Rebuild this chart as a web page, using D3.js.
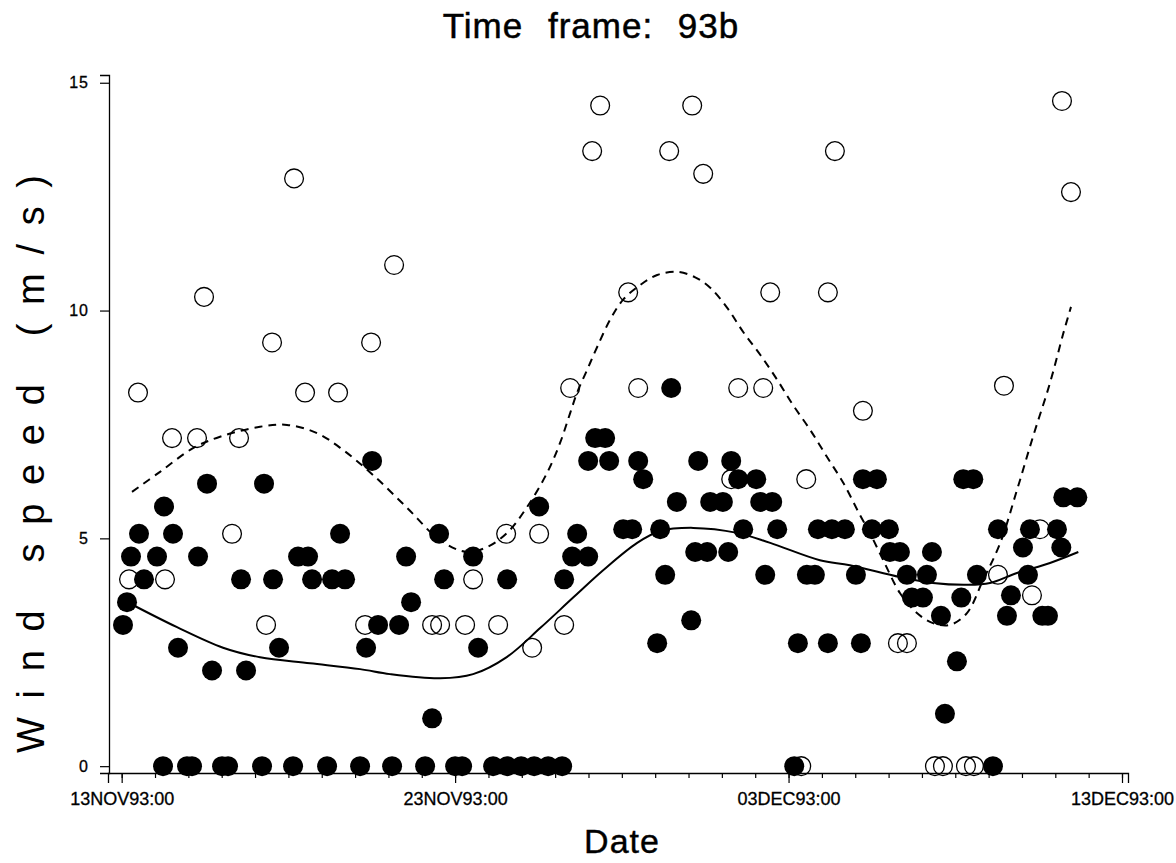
<!DOCTYPE html>
<html>
<head>
<meta charset="utf-8">
<script src="https://cdn.jsdelivr.net/npm/d3@7"></script>
<style>
  body { margin: 0; background: #fff; }
  svg text { font-family: "Liberation Sans", Arial, Helvetica, sans-serif; fill: #000; }
</style>
</head>
<body>
<div id="chart"></div>
<script>
var
  width = 1176,
  height = 863;

// days after 13NOV93:00 and wind speed (m/s)
var filledDay = [0.04, 0.16, 0.28, 0.52, 0.67, 1.06, 1.24, 1.27, 1.54, 1.69, 1.96, 2.11, 2.29, 2.56, 2.71,
  3.01, 3.19, 3.58, 3.73, 4.21, 4.27, 4.54, 4.72, 5.14, 5.29, 5.59, 5.71, 6.16, 6.31, 6.55, 6.70,
  7.15, 7.33, 7.51, 7.69, 8.11, 8.32, 8.53, 8.68, 9.10, 9.31, 9.52, 9.67, 10.00, 10.21, 10.54, 10.69,
  11.14, 11.56, 11.56, 11.98, 12.37, 12.52, 12.79, 13.21, 13.27, 13.51, 13.66, 13.99, 13.99, 14.20,
  14.50, 14.62, 15.04, 15.31, 15.49, 15.64, 16.06, 16.15, 16.30, 16.48, 16.65, 17.08, 17.20, 17.29,
  17.56, 17.65, 18.03, 18.19, 18.28, 18.49, 18.64, 19.03, 19.15, 19.30, 19.51, 19.66, 20.17, 20.28,
  20.55, 20.79, 20.88, 21.18, 21.30, 21.69, 22.02, 22.17, 22.23, 22.50, 22.65, 23.01, 23.04, 23.34,
  23.55, 23.70, 24.03, 24.15, 24.30, 24.57, 24.69, 25.05, 25.18, 25.24, 25.54, 25.65, 26.13, 26.28,
  26.55, 26.67, 27.03, 27.18, 27.24, 27.61, 27.78, 28.05, 28.18, 28.24, 28.66];
var filledSpeed = [3.1, 3.6, 4.6, 5.1, 4.1, 4.6, 0, 5.7, 5.1, 2.6, 0, 0, 4.6, 6.2, 2.1,
  0, 0, 4.1, 2.1, 0, 6.2, 4.1, 2.6, 0, 4.6, 4.6, 4.1, 0, 4.1, 5.1, 4.1,
  0, 2.6, 6.7, 3.1, 0, 3.1, 4.6, 3.6, 0, 1.05, 5.1, 4.1, 0, 0, 4.6, 2.6,
  0, 0, 4.1, 0, 0, 5.7, 0, 0, 4.1, 4.6, 5.1, 4.6, 6.7, 7.2,
  7.2, 6.7, 5.2, 5.2, 6.7, 6.3, 2.7, 5.2, 4.2, 8.3, 5.8, 3.2, 4.7, 6.7,
  4.7, 5.8, 5.8, 4.7, 6.7, 6.3, 5.2, 6.3, 5.8, 4.2, 5.8, 5.2, 0, 2.7,
  4.2, 4.2, 5.2, 2.7, 5.2, 5.2, 4.2, 2.7, 6.3, 5.2, 6.3, 5.2, 4.7, 4.7,
  4.2, 3.7, 3.7, 4.2, 4.7, 3.3, 1.15, 2.3, 3.7, 6.3, 6.3, 4.2, 0, 5.2,
  3.3, 3.75, 4.8, 4.2, 5.2, 3.3, 3.3, 5.2, 4.8, 5.9, 5.9];

var openDay = [0.22, 0.49, 1.30, 1.51, 2.26, 2.47, 3.31, 3.52, 4.33, 4.51, 5.17, 5.50, 6.49, 7.30,
  7.48, 8.17, 9.31, 9.55, 10.30, 10.54, 11.29, 11.53, 12.31, 12.52, 13.27, 13.45, 14.11, 14.35,
  15.19, 15.49, 16.42, 17.11, 17.44, 18.28, 18.49, 19.24, 19.45, 20.38, 20.53, 21.18, 21.39, 22.23,
  23.28, 23.55, 24.39, 24.63, 25.32, 25.56, 26.28, 26.46, 27.30, 27.54, 28.20, 28.47];
var openSpeed = [4.1, 8.2, 4.1, 7.2, 7.2, 10.3, 5.1, 7.2, 3.1, 9.3, 12.9, 8.2, 8.2, 3.1,
  9.3, 11.0, 3.1, 3.1, 3.1, 4.1, 3.1, 5.1, 2.6, 5.1, 3.1, 8.3, 13.5, 14.5,
  10.4, 8.3, 13.5, 14.5, 13.0, 6.3, 8.3, 8.3, 10.4, 0, 6.3, 10.4, 13.5, 7.8,
  2.7, 2.7, 0, 0, 0, 0, 4.2, 8.35, 3.75, 5.2, 14.6, 12.6];

// smooth fits: solid (filled symbols), dashed (open symbols)
var solidDay = [0.25, 1.66, 3.04, 4.15, 5.65, 7.15, 8.05, 9.55, 10.54, 11.56, 12.55, 13.54, 14.44,
  15.46, 16.15, 17.14, 18.46, 19.45, 20.94, 21.84, 23.34, 24.33, 25.35, 26.04, 26.85, 27.84, 28.69];
var solidSpeed = [3.57, 3.05, 2.6, 2.39, 2.26, 2.13, 2.02, 1.93, 2.02, 2.4, 3.03, 3.7, 4.3,
  4.9, 5.16, 5.23, 5.12, 4.9, 4.52, 4.41, 4.15, 4.02, 3.98, 4.02, 4.24, 4.46, 4.7];

var dashDay = [0.31, 1.15, 2.14, 2.95, 4.15, 4.96, 5.86, 6.64, 7.54, 8.56, 9.55, 10.36, 10.96, 11.56,
  12.16, 12.76, 13.15, 13.45, 13.66, 13.96, 14.26, 14.65, 15.04, 15.55, 16.06, 16.65, 17.20, 17.65,
  18.16, 18.64, 19.15, 19.66, 20.13, 20.65, 21.15, 21.64, 22.15, 22.45, 22.84, 23.34, 23.85, 24.33,
  24.84, 25.35, 25.83, 26.35, 26.85, 27.33, 27.84, 28.24, 28.47];
var dashSpeed = [6.02, 6.46, 6.98, 7.23, 7.45, 7.49, 7.31, 6.94, 6.39, 5.67, 4.96, 4.7, 4.81, 5.12,
  5.69, 6.44, 7.1, 7.75, 8.2, 8.7, 9.2, 9.8, 10.24, 10.56, 10.78, 10.85, 10.73, 10.5,
  10.06, 9.53, 9.03, 8.48, 7.93, 7.38, 6.79, 6.22, 5.5, 5.1, 4.52, 3.8, 3.36, 3.14,
  3.1, 3.36, 4.08, 4.9, 6.06, 7.23, 8.41, 9.5, 10.08];

var yTicks = [0, 5, 10, 15];
var majorDays = [0, 10, 20, 30];

var base = new Date(1993, 10, 13, 0, 0);
function toDate(d) { return new Date(+base + d * 864e5); }

var svg = d3.select("#chart")
  .append("svg")
  .attr("width", width)
  .attr("height", height);

var x = d3.scaleTime()
  .domain([toDate(-0.41), toDate(30.18)])
  .range([108, 1128]);

var y = d3.scaleLinear()
  .domain([-0.15, 15.17])
  .range([773, 75]);

var fmt = d3.timeFormat("%d%b%y:%H");

// x axis: daily minor ticks, labelled majors every 10 days
svg.append("g")
  .attr("transform", "translate(0,773)")
  .call(d3.axisBottom(x)
    .tickValues(d3.timeDay.range(toDate(0), toDate(30.5)))
    .tickSize(5)
    .tickFormat(""))
  .call(function(g) { g.selectAll("line").attr("stroke", "#000").attr("stroke-width", 1.2); });

svg.append("g")
  .attr("transform", "translate(0,773)")
  .call(d3.axisBottom(x)
    .tickValues(majorDays.map(toDate))
    .tickSize(10)
    .tickPadding(9)
    .tickFormat(function(d) { return fmt(d).toUpperCase(); }))
  .call(function(g) {
    g.select(".domain").attr("stroke", "#000").attr("stroke-width", 1.3);
    g.selectAll("line").attr("stroke", "#000").attr("stroke-width", 1.2);
    g.selectAll("text").attr("font-size", 18).attr("fill", "#000")
      .attr("stroke", "#000").attr("stroke-width", 0.3);
  });

// y axis
svg.append("g")
  .attr("transform", "translate(109,0)")
  .call(d3.axisLeft(y)
    .tickValues(yTicks)
    .tickSize(9)
    .tickPadding(11)
    .tickFormat(d3.format("d")))
  .call(function(g) {
    g.select(".domain").attr("stroke", "#000").attr("stroke-width", 1.3);
    g.selectAll("line").attr("stroke", "#000").attr("stroke-width", 1.2);
    g.selectAll("text").attr("font-size", 16).attr("fill", "#000").attr("letter-spacing", 1)
      .attr("stroke", "#000").attr("stroke-width", 0.3);
  });

// points
svg.append("g").selectAll("circle")
  .data(openDay)
  .enter().append("circle")
  .attr("cx", function(d) { return x(toDate(d)); })
  .attr("cy", function(d, i) { return y(openSpeed[i]); })
  .attr("r", 9.4)
  .attr("fill", "none")
  .attr("stroke", "#000")
  .attr("stroke-width", 1.3);

svg.append("g").selectAll("circle")
  .data(filledDay)
  .enter().append("circle")
  .attr("cx", function(d) { return x(toDate(d)); })
  .attr("cy", function(d, i) { return y(filledSpeed[i]); })
  .attr("r", 10)
  .attr("fill", "#000");

// fitted curves
var line = d3.line()
  .x(function(d) { return x(toDate(d[0])); })
  .y(function(d) { return y(d[1]); })
  .curve(d3.curveCatmullRom);

svg.append("path")
  .datum(d3.zip(solidDay, solidSpeed))
  .attr("d", line)
  .attr("fill", "none")
  .attr("stroke", "#000")
  .attr("stroke-width", 2);

svg.append("path")
  .datum(d3.zip(dashDay, dashSpeed))
  .attr("d", line)
  .attr("fill", "none")
  .attr("stroke", "#000")
  .attr("stroke-width", 2)
  .attr("stroke-dasharray", "8,6");

// titles
svg.append("text")
  .attr("x", 591)
  .attr("y", 38)
  .attr("text-anchor", "middle")
  .attr("font-size", 35)
  .attr("letter-spacing", 1)
  .attr("word-spacing", 14)
  .attr("stroke", "#000")
  .attr("stroke-width", 0.5)
  .text("Time frame: 93b");

svg.append("text")
  .attr("x", 622)
  .attr("y", 853)
  .attr("text-anchor", "middle")
  .attr("font-size", 34)
  .attr("letter-spacing", 1)
  .attr("stroke", "#000")
  .attr("stroke-width", 0.4)
  .text("Date");

svg.append("text")
  .attr("transform", "translate(44,464) rotate(-90)")
  .attr("text-anchor", "middle")
  .attr("font-size", 38)
  .attr("textLength", 578)
  .attr("lengthAdjust", "spacing")
  .text("Wind speed (m/s)");
</script>
</body>
</html>
